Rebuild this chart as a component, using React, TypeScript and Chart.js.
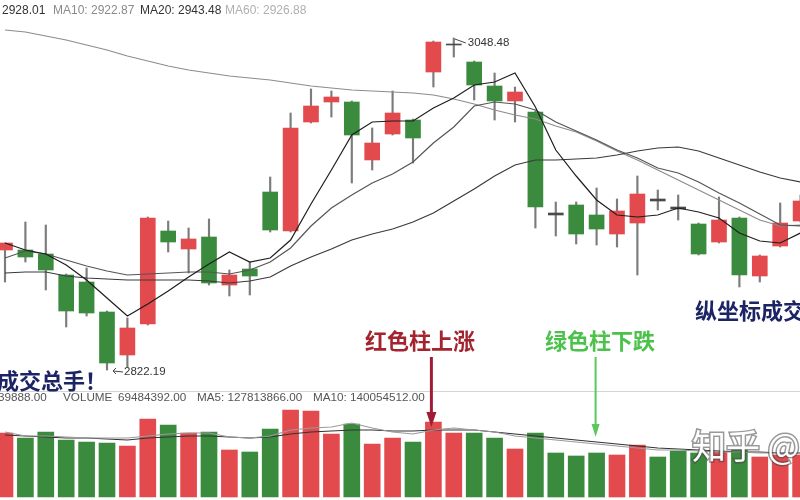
import React, { useEffect, useRef } from "react";
import { Chart, registerables } from "chart.js";

Chart.register(...registerables);

// ---------- data ----------
const opens = [2903.98, 2903.98, 2901.25, 2886.94, 2882.17, 2861.72, 2832.41, 2853.54, 2916.93, 2904.66, 2912.84, 2880.12, 2891.03, 2943.51, 2916.93, 2991.23, 3004.86, 3004.86, 2965.35, 2983.05, 2992.59, 3025.3, 3043.71, 3032.12, 3015.76, 3005.54, 2998.04, 2929.2, 2934.65, 2927.84, 2914.88, 2922.38, 2938.74, 2933.29, 2921.7, 2909.43, 2925.79, 2886.26, 2906.7, 2923.75];
const highs = [2908.75, 2923.06, 2921.02, 2887.62, 2891.71, 2862.4, 2857.63, 2926.47, 2923.75, 2918.97, 2925.11, 2890.35, 2895.8, 2953.74, 2997.36, 3013.72, 3012.35, 3005.54, 2987.14, 3012.35, 2993.27, 3046.43, 3048.48, 3032.8, 3024.62, 3015.08, 2998.72, 2936.7, 2936.7, 2946.24, 2938.74, 2954.42, 2944.88, 2941.47, 2922.38, 2940.1, 2926.47, 2900.57, 2936.02, 2941.47];
const lows = [2882.17, 2895.8, 2876.72, 2851.5, 2859.0, 2822.19, 2824.21, 2852.86, 2902.62, 2888.3, 2880.12, 2872.63, 2873.31, 2916.25, 2916.25, 2990.54, 2994.63, 2949.65, 2958.51, 2982.36, 2963.28, 3015.08, 3035.53, 3006.22, 2992.59, 2991.23, 2918.97, 2913.52, 2908.07, 2907.39, 2906.02, 2886.94, 2931.25, 2924.43, 2900.57, 2908.75, 2878.76, 2882.17, 2906.02, 2923.06];
const closes = [2908.75, 2899.21, 2890.35, 2862.4, 2861.04, 2826.96, 2850.82, 2925.79, 2909.43, 2911.48, 2881.49, 2886.94, 2886.26, 2917.61, 2987.14, 3002.13, 3008.26, 2982.36, 2976.91, 2997.36, 2980.32, 3045.75, 3044.39, 3016.44, 3005.54, 3011.67, 2933.29, 2927.84, 2914.88, 2918.29, 2930.56, 2942.15, 2937.38, 2931.93, 2901.25, 2924.43, 2886.94, 2899.89, 2922.38, 2937.38];

const ma5 = [2908.75, 2903.98, 2901.25, 2893.76, 2883.53, 2871.26, 2858.99, 2867.17, 2876.03, 2885.58, 2894.44, 2902.62, 2895.8, 2898.53, 2910.8, 2935.33, 2958.51, 2982.36, 2991.23, 2991.91, 2991.91, 3000.77, 3007.58, 3016.44, 3018.49, 3024.62, 3001.45, 2972.14, 2954.42, 2938.06, 2927.84, 2926.47, 2927.84, 2932.61, 2929.88, 2925.79, 2915.57, 2910.11, 2908.75, 2915.57];
const ma10 = [2898.53, 2903.3, 2901.25, 2897.16, 2893.07, 2889.67, 2886.94, 2887.62, 2888.3, 2888.98, 2888.98, 2887.62, 2890.35, 2895.8, 2905.34, 2920.34, 2932.61, 2941.47, 2949.65, 2955.78, 2963.96, 2976.91, 2987.82, 3002.13, 3004.86, 3003.49, 2999.4, 2991.23, 2985.09, 2978.96, 2972.14, 2966.69, 2959.87, 2956.46, 2950.33, 2942.83, 2936.02, 2928.52, 2921.02, 2920.34];
const ma20 = [2888.3, 2888.98, 2888.98, 2886.26, 2884.9, 2884.21, 2883.53, 2883.53, 2883.53, 2883.53, 2882.85, 2881.49, 2882.85, 2885.58, 2893.07, 2899.21, 2904.66, 2910.8, 2914.89, 2918.29, 2923.06, 2929.2, 2937.38, 2945.56, 2954.42, 2961.92, 2965.32, 2965.32, 2966.01, 2966.69, 2968.73, 2971.46, 2973.5, 2974.18, 2971.46, 2966.69, 2961.92, 2957.15, 2953.06, 2950.33];
const ma60 = [3053.93, 3052.57, 3049.84, 3047.12, 3043.71, 3040.3, 3036.21, 3032.8, 3029.39, 3026.67, 3024.62, 3022.58, 3021.21, 3019.85, 3017.81, 3015.76, 3014.4, 3013.04, 3012.35, 3011.67, 3010.99, 3009.63, 3006.9, 3003.49, 2999.4, 2995.99, 2993.27, 2988.5, 2984.41, 2978.27, 2971.46, 2965.32, 2958.51, 2951.69, 2944.88, 2938.06, 2931.24, 2924.43, 2920.34, 2921.02];

// volume in millions
const volumes = [128, 118, 130, 114, 110, 108, 102, 156, 144, 128, 130, 94, 90, 136, 174, 172, 126, 146, 106, 118, 110, 150, 128, 128, 118, 96, 128, 88, 82, 88, 84, 104, 80, 92, 88, 90, 94, 80, 84, 84];
const volMa5 = [130, 122, 122, 120, 118, 118, 118, 122, 126, 128, 128, 120, 118, 122, 134, 138, 140, 148, 138, 130, 126, 134, 138, 134, 130, 122, 118, 114, 110, 106, 102, 98, 94, 94, 92, 90, 90, 88, 88, 88];
const volMa10 = [124, 122, 120, 118, 118, 116, 114, 118, 120, 122, 122, 120, 118, 120, 126, 130, 132, 134, 134, 132, 132, 134, 134, 134, 130, 126, 122, 118, 114, 110, 106, 102, 98, 96, 94, 92, 90, 90, 88, 88];

const headerTexts = ["2928.01", "MA10: 2922.87", "MA20: 2943.48", "MA60: 2926.88"];
const volumeHeaderTexts = ["39888.00", "VOLUME", "69484392.00", "MA5: 127813866.00", "MA10: 140054512.00"];
const highLabel = "3048.48";
const lowLabel = "2822.19";
const highIndex = 22;
const lowIndex = 5;
const upIndex = 21;
const downIndex = 29;

const RED = "#e24a4e";
const GREEN = "#3a8b3d";
const DOJI = "#4a4a4a";

function candleColor(i: number) {
  if (Math.abs(closes[i] - opens[i]) < 2) return DOJI;
  return closes[i] >= opens[i] ? RED : GREEN;
}

const overlayPlugin = {
  id: "overlay",
  beforeDatasetsDraw(chart: any) {
    const { ctx } = chart;
    ctx.save();
    ctx.strokeStyle = "#d4d4d4";
    ctx.lineWidth = 1;
    ctx.beginPath();
    ctx.moveTo(0, 391.5);
    ctx.lineTo(800, 391.5);
    ctx.stroke();
    ctx.restore();
  },
  afterDatasetsDraw(chart: any) {
    const { ctx, scales } = chart;
    const xs = scales.x;
    const yp = scales.y;
    ctx.save();
    ctx.textBaseline = "middle";
    ctx.textAlign = "left";

    // top header
    ctx.font = '12px "Liberation Sans", Arial, sans-serif';
    const headColors = ["#333333", "#8a8a8a", "#333333", "#b0b0b0"];
    const headX = [2, 53, 140, 225];
    headerTexts.forEach((t, k) => {
      ctx.fillStyle = headColors[k];
      ctx.fillText(t, headX[k], 11);
    });

    // volume header
    ctx.font = '11.7px "Liberation Sans", Arial, sans-serif';
    ctx.fillStyle = "#555555";
    const vx = [-2, 63, 118, 197, 313];
    volumeHeaderTexts.forEach((t, k) => ctx.fillText(t, vx[k], 398));

    // high / low labels
    const hx = xs.getPixelForValue(highIndex);
    const hy = yp.getPixelForValue(highs[highIndex]);
    ctx.strokeStyle = "#444";
    ctx.lineWidth = 1;
    ctx.beginPath();
    ctx.moveTo(hx + 1, hy + 1);
    ctx.lineTo(hx + 12, hy + 5);
    ctx.stroke();
    ctx.fillStyle = "#333";
    ctx.font = '11.5px "Liberation Sans", Arial, sans-serif';
    ctx.fillText(highLabel, hx + 14, hy + 5);

    const lx = xs.getPixelForValue(lowIndex);
    const ly = yp.getPixelForValue(lows[lowIndex]);
    ctx.beginPath();
    ctx.moveTo(lx + 6, ly + 1);
    ctx.lineTo(lx + 16, ly + 2);
    ctx.moveTo(lx + 6, ly + 1);
    ctx.lineTo(lx + 9, ly - 2);
    ctx.moveTo(lx + 6, ly + 1);
    ctx.lineTo(lx + 9, ly + 4);
    ctx.stroke();
    ctx.fillText(lowLabel, lx + 17, ly + 2);

    // annotations
    ctx.font = 'bold 22px "Noto Sans CJK SC", sans-serif';
    ctx.fillStyle = "#1c2466";
    ctx.fillText("成交总手！", -3, 381);
    ctx.fillText("纵坐标成交量", 695, 311);

    ctx.fillStyle = "#a3232f";
    ctx.fillText("红色柱上涨", 365, 341);
    ctx.fillStyle = "#4cc24c";
    ctx.fillText("绿色柱下跌", 545, 341);

    // red arrow
    const rx = xs.getPixelForValue(upIndex) - 2;
    ctx.strokeStyle = "#a01c36";
    ctx.fillStyle = "#a01c36";
    ctx.lineWidth = 3;
    ctx.beginPath();
    ctx.moveTo(rx, 357);
    ctx.lineTo(rx, 414);
    ctx.stroke();
    ctx.beginPath();
    ctx.moveTo(rx - 5, 412);
    ctx.lineTo(rx + 5, 412);
    ctx.lineTo(rx, 427);
    ctx.closePath();
    ctx.fill();

    // green arrow
    const gx = xs.getPixelForValue(downIndex) - 1;
    ctx.strokeStyle = "#5cc85c";
    ctx.fillStyle = "#5cc85c";
    ctx.lineWidth = 2;
    ctx.beginPath();
    ctx.moveTo(gx, 357);
    ctx.lineTo(gx, 426);
    ctx.stroke();
    ctx.beginPath();
    ctx.moveTo(gx - 4, 424);
    ctx.lineTo(gx + 4, 424);
    ctx.lineTo(gx, 437);
    ctx.closePath();
    ctx.fill();

    // watermark
    ctx.font = '34px "Noto Sans CJK SC", sans-serif';
    ctx.lineWidth = 3;
    ctx.strokeStyle = "rgba(70,70,70,0.55)";
    ctx.strokeText("知乎 @", 692, 446);
    ctx.fillStyle = "#ffffff";
    ctx.fillText("知乎 @", 692, 446);

    ctx.restore();
  },
};

export default function App() {
  const ref = useRef<HTMLCanvasElement | null>(null);

  useEffect(() => {
    document.body.style.margin = "0";
    const canvas = ref.current;
    if (!canvas) return;
    const idx = opens.map((_, i) => i);
    const pts = (arr: number[]) => arr.map((v, i) => ({ x: i, y: v }));
    const line = (label: string, arr: number[], color: string, axis: string, order: number) => ({
      type: "line",
      label,
      data: pts(arr),
      borderColor: color,
      borderWidth: 1.2,
      pointRadius: 0,
      tension: 0,
      yAxisID: axis,
      order,
      clip: false,
    });

    const chart = new Chart(canvas, {
      type: "bar",
      data: {
        datasets: [
          line("MA5", ma5, "#1e1e1e", "y", 1),
          line("MA10", ma10, "#555555", "y", 1),
          line("MA20", ma20, "#3a3a3a", "y", 1),
          line("MA60", ma60, "#8c8c8c", "y", 1),
          {
            type: "bar",
            label: "body",
            data: idx.map((i) => ({ x: i, y: [opens[i], closes[i]] })),
            backgroundColor: idx.map(candleColor),
            borderWidth: 0,
            barThickness: 15,
            grouped: false,
            yAxisID: "y",
            order: 3,
            clip: false,
          },
          {
            type: "bar",
            label: "wick",
            data: idx.map((i) => ({ x: i, y: [lows[i], highs[i]] })),
            backgroundColor: "#7c7c7c",
            borderWidth: 0,
            barThickness: 1.5,
            grouped: false,
            yAxisID: "y",
            order: 4,
            clip: false,
          },
          line("VMA5", volMa5, "#9a9a9a", "vol", 2),
          line("VMA10", volMa10, "#333333", "vol", 2),
          {
            type: "bar",
            label: "VOLUME",
            data: idx.map((i) => ({ x: i, y: volumes[i] })),
            backgroundColor: idx.map((i) => (closes[i] >= opens[i] ? RED : GREEN)),
            borderWidth: 0,
            barThickness: 16,
            grouped: false,
            yAxisID: "vol",
            order: 5,
            clip: false,
          },
        ] as any,
      },
      options: {
        animation: false,
        responsive: false,
        devicePixelRatio: 1,
        layout: { padding: 0 },
        plugins: { legend: { display: false }, tooltip: { enabled: false } },
        scales: {
          x: { type: "linear", min: -0.245, max: 38.971, offset: false, display: false },
          y: { type: "linear", min: 2733.58, max: 3074.38, display: false },
          vol: { type: "linear", min: -6, max: 994, display: false },
        },
      } as any,
      plugins: [overlayPlugin],
    });
    return () => chart.destroy();
  }, []);

  return (
    <div style={{ position: "fixed", left: 0, top: 0, width: 800, height: 500, background: "#ffffff" }}>
      <canvas ref={ref} width={800} height={500} />
    </div>
  );
}
